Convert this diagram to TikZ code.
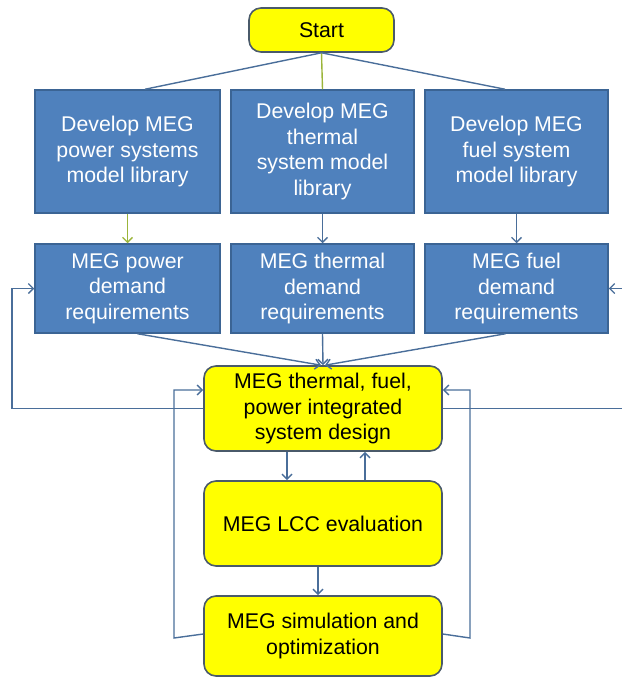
\documentclass[tikz,border=0pt]{standalone}
\usepackage{fontspec}
\setmainfont{Liberation Sans}
\usetikzlibrary{arrows.meta}
\definecolor{boxblue}{HTML}{4F81BD}
\definecolor{boxedge}{HTML}{3B6494}
\definecolor{linec}{HTML}{4A6E9A}
\definecolor{greenl}{HTML}{9BB53A}
\definecolor{yel}{HTML}{FFFF00}
\definecolor{yedge}{HTML}{4A5A6A}
\begin{document}
\begin{tikzpicture}[x=1pt,y=-1pt,
  bluebox/.style={draw=boxedge,fill=boxblue,line width=1.5pt,text=white,align=center,
    font=\fontsize{21.3}{25.5}\selectfont,inner sep=0pt},
  yelbox/.style={draw=yedge,fill=yel,line width=1.6pt,rounded corners=12pt,align=center,
    font=\fontsize{21.3}{25.5}\selectfont,inner sep=0pt,minimum width=238pt},
  conn/.style={draw=linec,line width=1.4pt},
  arr/.style={conn,-{Straight Barb[length=5pt,width=10pt]}},
  garr/.style={draw=greenl,line width=1.4pt,-{Straight Barb[length=5pt,width=10pt]}}]
\useasboundingbox (0,0) rectangle (621,679);
\node[yelbox,minimum width=145pt,minimum height=44pt] (start) at (321.5,30) {Start};
\node[bluebox,minimum width=185pt,minimum height=123pt] (lt) at (127.5,151.5) {Develop MEG\\power systems\\model library};
\node[bluebox,minimum width=183pt,minimum height=123pt] (mt) at (322.5,151.5) {Develop MEG\\thermal\\system model\\library};
\node[bluebox,minimum width=183pt,minimum height=123pt] (rt) at (516.5,151.5) {Develop MEG\\fuel system\\model library};
\node[bluebox,minimum width=185pt,minimum height=89pt] (lp) at (127.5,288.5) {MEG power\\demand\\requirements};
\node[bluebox,minimum width=183pt,minimum height=89pt] (mp) at (322.5,288.5) {MEG thermal\\demand\\requirements};
\node[bluebox,minimum width=183pt,minimum height=89pt] (rp) at (516.5,288.5) {MEG fuel\\demand\\requirements};
\node[yelbox,minimum height=85pt] (integ) at (323,408.5) {MEG thermal, fuel,\\power integrated\\system design};
\node[yelbox,minimum height=85pt] (lcc) at (323,523.5) {MEG LCC evaluation};
\node[yelbox,minimum height=80pt] (sim) at (323,636) {MEG simulation and\\optimization};
% start to top row
\draw[conn] (start.south) -- ([xshift=17.5pt]lt.north);
\draw[draw=greenl,line width=1.4pt] (start.south) -- (mt.north);
\draw[conn] (start.south) -- ([xshift=-11.5pt]rt.north);
% top row to second row
\draw[garr] (lt.south) -- (lp.north);
\draw[arr] (mt.south) -- (mp.north);
\draw[arr] (rt.south) -- (rp.north);
% second row to integrated
\draw[arr] ([xshift=10pt]lp.south) -- ([xshift=-2pt]integ.north);
\draw[arr] (mp.south) -- (integ.north);
\draw[arr] ([xshift=-11pt]rp.south) -- ([xshift=2pt]integ.north);
% feedback to demand rows
\draw[arr] (integ.west) -- (12,408.5) |- (lp.west);
\draw[conn] (integ.east) -- (626,408.5);
\coordinate (rin) at (626,288.5);
\draw[arr] (rin) -- (rp.east);
% lower loop
\draw[arr] ([xshift=-36pt]integ.south) -- ([xshift=-36pt]lcc.north);
\draw[arr] ([xshift=42pt]lcc.north) -- ([xshift=42pt]integ.south);
\draw[arr] ([xshift=-5pt]lcc.south) -- ([xshift=-5pt]sim.north);
\draw[arr] ([yshift=2pt]sim.west) -- (174,638) |- ([yshift=18.5pt]integ.west);
\draw[arr] ([yshift=2pt]sim.east) -- (470,638) |- ([yshift=18.5pt]integ.east);
\end{tikzpicture}
\end{document}
